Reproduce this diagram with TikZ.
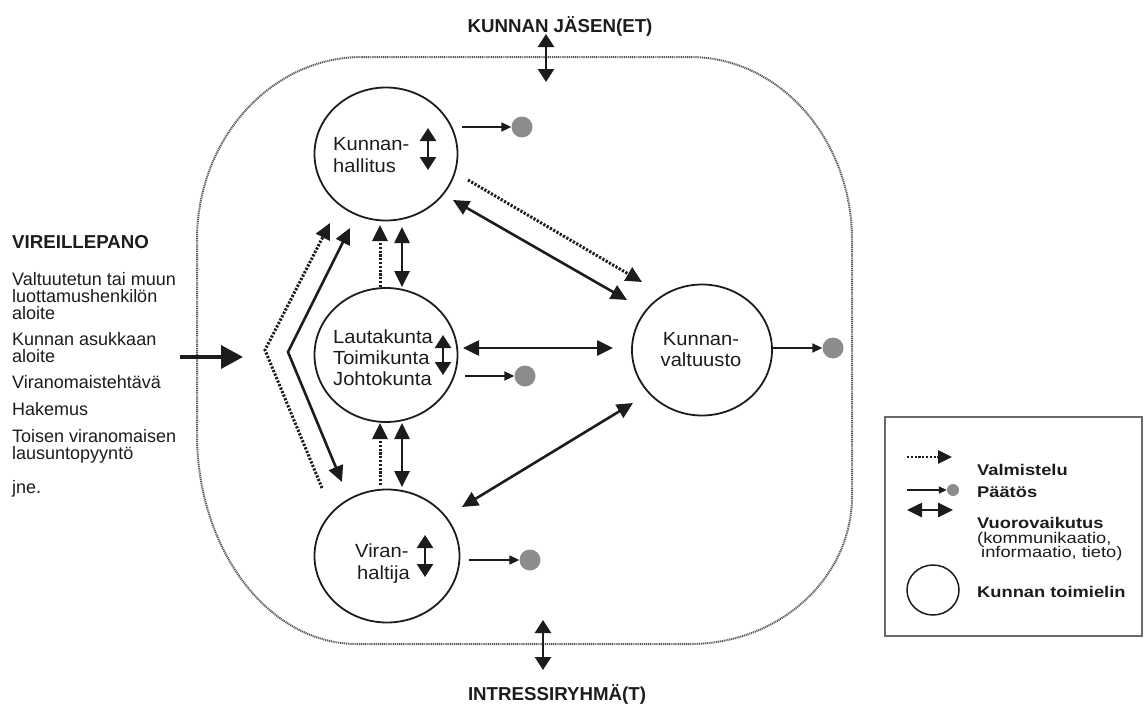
\documentclass[tikz,border=0pt]{standalone}
\usepackage{fontspec}
\setmainfont{Liberation Sans}
\newfontfamily\orgfont{Liberation Sans}[FakeStretch=1.06]
\newfontfamily\legfont{Liberation Sans}[FakeStretch=1.18]
\usetikzlibrary{arrows.meta,shapes.geometric}

\definecolor{ink}{HTML}{1C1C1C}
\definecolor{dotgray}{HTML}{8C8C8C}
\definecolor{bordergray}{HTML}{585858}
\definecolor{framegray}{HTML}{6A6A6A}

\begin{document}
\begin{tikzpicture}[x=1pt,y=-1pt,
  organ/.style={draw=ink, line width=1.8pt, ellipse, inner sep=0pt},
  lbl/.style={font=\fontsize{18}{21}\selectfont, text=ink, inner sep=0pt, anchor=base west},
  olbl/.style={font=\orgfont\fontsize{19}{22}\selectfont, text=ink, inner sep=0pt, anchor=base west},
  hdr/.style={font=\bfseries\fontsize{18.7}{22}\selectfont, text=ink, inner sep=0pt, anchor=base},
  leg/.style={font=\legfont\bfseries\fontsize{15.5}{15}\selectfont, text=ink, inner sep=0pt, anchor=base west},
  legn/.style={font=\legfont\fontsize{15.5}{15}\selectfont, text=ink, inner sep=0pt, anchor=base west},
  link/.style={draw=ink, line width=2.6pt},
  both/.style={link, {Triangle[length=16pt,width=15pt]}-{Triangle[length=16pt,width=15pt]}},
  prep/.style={draw=ink, line width=3pt, dash pattern=on 2.2pt off 1.6pt, -{Triangle[length=16pt,width=15pt]}},
  inner/.style={draw=ink, line width=2.6pt, {Triangle[length=13pt,width=16pt]}-{Triangle[length=13pt,width=16pt]}},
  decide/.style={draw=ink, line width=2pt, -{Triangle[length=10pt,width=9pt]}},
  result/.style={circle, fill=dotgray, inner sep=0pt, minimum size=21pt},
]
\useasboundingbox (0,0) rectangle (1144,704);

% municipal boundary
\draw[bordergray, line width=2pt, dash pattern=on 1.1pt off 0.8pt]
  (362,57) -- (690,57)
  .. controls (779.5,57) and (852,139) .. (852,240)
  -- (852,496)
  .. controls (852,578) and (779.5,644) .. (690,644)
  -- (357,644)
  .. controls (268.6,644) and (197,550) .. (197,434)
  -- (197,240)
  .. controls (197,139) and (270.9,57) .. (362,57) -- cycle;

% outside parties
\node[hdr] (members) at (560,32) {KUNNAN JÄSEN(ET)};
\node[hdr] (groups) at (557,700) {INTRESSIRYHMÄ(T)};
\coordinate (memTop) at (546,34);
\coordinate (memBot) at (546,82);
\coordinate (grpTop) at (543,620);
\coordinate (grpBot) at (543,670);
\draw[inner] (memTop) -- (memBot);
\draw[inner] (grpTop) -- (grpBot);

% bodies
\node[organ, minimum width=143pt, minimum height=133pt] (kh) at (386,154) {};
\node[organ, minimum width=143pt, minimum height=134pt] (lk) at (386,355) {};
\node[organ, minimum width=145pt, minimum height=133pt] (vh) at (387,556) {};
\node[organ, minimum width=140pt, minimum height=131pt] (kv) at (702,350) {};

\node[olbl] (khA) at (333,150) {Kunnan-};
\node[olbl] (khB) at (333,172) {hallitus};
\node[olbl] (lkA) at (333,343) {Lautakunta};
\node[olbl] (lkB) at (333,364) {Toimikunta};
\node[olbl] (lkC) at (333,385) {Johtokunta};
\node[olbl] (vhA) at (355,557) {Viran-};
\node[olbl] (vhB) at (357,579) {haltija};
\node[olbl, anchor=base] (kvA) at (701,345) {Kunnan-};
\node[olbl, anchor=base] (kvB) at (701,366) {valtuusto};

% interaction inside each body
\coordinate (khIa) at (428,128); \coordinate (khIb) at (428,170);
\coordinate (lkIa) at (443,335); \coordinate (lkIb) at (443,375);
\coordinate (vhIa) at (425,535); \coordinate (vhIb) at (425,577);
\draw[inner] (khIa) -- (khIb);
\draw[inner] (lkIa) -- (lkIb);
\draw[inner] (vhIa) -- (vhIb);

% decisions
\node[result] (khD) at (522,127) {};
\node[result] (lkD) at (525,376) {};
\node[result] (vhD) at (530,560) {};
\node[result] (kvD) at (833,348) {};
\coordinate (khDs) at (462,127);
\coordinate (lkDs) at (465,376);
\coordinate (vhDs) at (469,560);
\coordinate (kvDs) at (772,348);
\draw[decide] (khDs) -- (khD.west);
\draw[decide] (lkDs) -- (lkD.west);
\draw[decide] (vhDs) -- (vhD.west);
\draw[decide] (kvDs) -- (kvD.west);

% links between bodies
\coordinate (khSE) at (453,200); \coordinate (kvNW) at (627,300);
\coordinate (khSEp) at (468,180); \coordinate (kvNWp) at (642,282);
\coordinate (lkE) at (463,348); \coordinate (kvW) at (613,348);
\coordinate (vhNE) at (462,507); \coordinate (kvSW) at (633,403);
\draw[both] (khSE) -- (kvNW);
\draw[prep] (khSEp) -- (kvNWp);
\draw[both] (lkE) -- (kvW);
\draw[both] (vhNE) -- (kvSW);

\coordinate (lkTp) at (380,287); \coordinate (khBp) at (380,225);
\coordinate (lkT) at (402,287); \coordinate (khB) at (402,227);
\coordinate (vhTp) at (380,485); \coordinate (lkBp) at (380,423);
\coordinate (vhT) at (402,487); \coordinate (lkB) at (402,423);
\draw[prep] (lkTp) -- (khBp);
\draw[both] (khB) -- (lkT);
\draw[prep] (vhTp) -- (lkBp);
\draw[both] (lkB) -- (vhT);

% initiation routes
\coordinate (pIn) at (322,488); \coordinate (pMid) at (265,350); \coordinate (pOut) at (330,223);
\coordinate (sDown) at (342,482); \coordinate (sMid) at (288,352); \coordinate (sUp) at (350,228);
\draw[prep, line join=miter] (pIn) -- (pMid) -- (pOut);
\draw[both, line join=miter] (sDown) -- (sMid) -- (sUp);

\coordinate (initS) at (180,357); \coordinate (initE) at (243,357);
\draw[draw=ink, line width=3.6pt, -{Triangle[length=22pt,width=23pt]}] (initS) -- (initE);

% initiation list
\node[lbl, font=\bfseries\fontsize{18.7}{21}\selectfont] (ini) at (12,248) {VIREILLEPANO};
\node[lbl] (i1a) at (12,285) {Valtuutetun tai muun};
\node[lbl] (i1b) at (12,302) {luottamushenkilön};
\node[lbl] (i1c) at (12,319) {aloite};
\node[lbl] (i2a) at (12,345) {Kunnan asukkaan};
\node[lbl] (i2b) at (12,362) {aloite};
\node[lbl] (i3) at (12,388) {Viranomaistehtävä};
\node[lbl] (i4) at (12,415) {Hakemus};
\node[lbl] (i5a) at (12,442) {Toisen viranomaisen};
\node[lbl] (i5b) at (12,459) {lausuntopyyntö};
\node[lbl] (i6) at (12,493) {jne.};

% legend
\node[draw=framegray, line width=1.6pt, inner sep=0pt, minimum width=257pt, minimum height=219pt] (legbox) at (1013.5,526.5) {};
\coordinate (lpA) at (907,457); \coordinate (lpB) at (952,457);
\draw[prep, line width=2.6pt, -{Triangle[length=14pt,width=13pt]}] (lpA) -- (lpB);
\node[result, minimum size=12pt] (ldD) at (953,490) {};
\coordinate (ldA) at (907,490);
\draw[decide, line width=1.8pt, -{Triangle[length=8pt,width=7pt]}] (ldA) -- (ldD.west);
\coordinate (liA) at (907,510); \coordinate (liB) at (953,510);
\draw[both, {Triangle[length=15pt,width=14pt]}-{Triangle[length=15pt,width=14pt]}] (liA) -- (liB);
\node[draw=ink, line width=1.5pt, ellipse, inner sep=0pt, minimum width=52pt, minimum height=50pt] (lorg) at (933,590) {};

\node[leg] (t1) at (977,475) {Valmistelu};
\node[leg] (t2) at (977,497) {Päätös};
\node[leg] (t3) at (977,528) {Vuorovaikutus};
\node[legn] (t4) at (977,543) {(kommunikaatio,};
\node[legn] (t5) at (981,557) {informaatio, tieto)};
\node[leg] (t6) at (977,597) {Kunnan toimielin};
\end{tikzpicture}
\end{document}
